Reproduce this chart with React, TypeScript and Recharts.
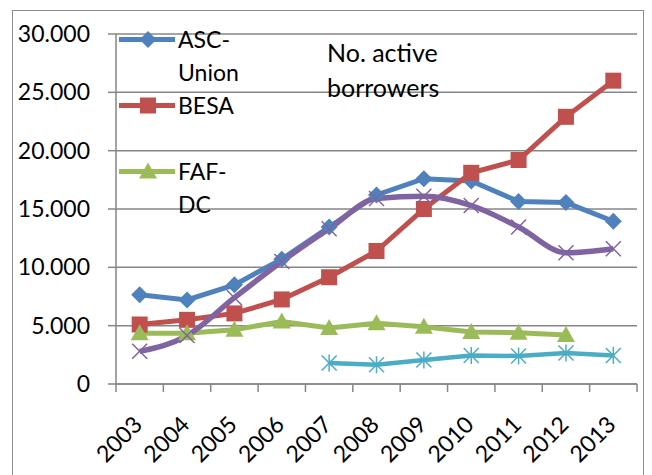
import React from 'react';
import { LineChart, Line, XAxis, YAxis, CartesianGrid, Legend } from 'recharts';

const years = ['2003', '2004', '2005', '2006', '2007', '2008', '2009', '2010', '2011', '2012', '2013'];
const ascUnion = [7650, 7200, 8500, 10700, 13450, 16200, 17600, 17400, 15650, 15550, 13950];
const besa = [5100, 5500, 6050, 7250, 9150, 11400, 15000, 18100, 19200, 22900, 26000];
const fafDc = [4350, 4350, 4650, 5350, 4800, 5200, 4900, 4450, 4400, 4200, null];
const series4 = [2800, 4150, 7400, 10500, 13300, 15900, 16100, 15300, 13450, 11250, 11600];
const series5 = [null, null, null, null, 1800, 1650, 2050, 2450, 2400, 2650, 2450];
const yTicks = [0, 5000, 10000, 15000, 20000, 25000, 30000];

const data = years.map((year, i) => ({
  year,
  asc: ascUnion[i],
  besa: besa[i],
  faf: fafDc[i],
  s4: series4[i],
  s5: series5[i],
}));

const W = 652;
const H = 475;
const LEFT = 116;
const RIGHT = 15;
const TOP = 34;
const X_H = 91;
const half = (W - LEFT - RIGHT) / years.length / 2;
const GRID = '#868686';
const FONT = 'Lato, "Open Sans", sans-serif';

const colors = {
  asc: '#4F81BD',
  besa: '#C0504D',
  faf: '#9BBB59',
  s4: '#8064A2',
  s5: '#4BACC6',
};

type Kind = 'diamond' | 'square' | 'triangle' | 'x' | 'star';

function marker(kind: Kind, color: string, cx: number, cy: number, key?: string) {
  if (kind === 'diamond') {
    return <polygon key={key} points={`${cx},${cy - 8.5} ${cx + 8.5},${cy} ${cx},${cy + 8.5} ${cx - 8.5},${cy}`} fill={color} />;
  }
  if (kind === 'square') {
    return <rect key={key} x={cx - 8} y={cy - 8} width={16} height={16} fill={color} />;
  }
  if (kind === 'triangle') {
    return <polygon key={key} points={`${cx},${cy - 9} ${cx + 9},${cy + 7} ${cx - 9},${cy + 7}`} fill={color} />;
  }
  const d = 7.5;
  return (
    <g key={key} stroke={color} strokeWidth={1.5}>
      <line x1={cx - d} y1={cy - d} x2={cx + d} y2={cy + d} />
      <line x1={cx - d} y1={cy + d} x2={cx + d} y2={cy - d} />
      {kind === 'star' && <line x1={cx} y1={cy - d - 1} x2={cx} y2={cy + d + 1} />}
    </g>
  );
}

const dotOf = (kind: Kind, color: string) => (props: any) => {
  const { cx, cy, index } = props;
  if (cx == null || cy == null || Number.isNaN(cy)) return <g key={`${kind}-${index}`} />;
  return marker(kind, color, cx, cy, `${kind}-${index}`);
};

const legendKinds: Record<string, Kind> = {
  'ASC-Union': 'diamond',
  BESA: 'square',
  'FAF-DC': 'triangle',
};

function LegendBox(props: any) {
  const items = (props.payload || []).filter((p: any) => legendKinds[p.value]);
  return (
    <div style={{ fontFamily: FONT, fontSize: 23, lineHeight: '33px', color: '#000' }}>
      {items.map((p: any) => (
        <div key={p.value} style={{ display: 'flex', height: 66, alignItems: 'flex-start' }}>
          <svg width={56} height={33} style={{ flex: 'none' }}>
            <line x1={0} x2={56} y1={16.5} y2={16.5} stroke={p.color} strokeWidth={5} />
            {marker(legendKinds[p.value], p.color, 29, 16.5)}
          </svg>
          <div style={{ marginLeft: 3, width: 75 }}>{p.value}</div>
        </div>
      ))}
    </div>
  );
}

function YearTick(props: any) {
  const { x, y, payload, index } = props;
  const tx = x + 4;
  const ty = y + 42;
  return (
    <g>
      <line x1={x - half} x2={x - half} y1={y} y2={y + 8} stroke={GRID} strokeWidth={1.5} />
      {index === years.length - 1 && (
        <line x1={x + half} x2={x + half} y1={y} y2={y + 8} stroke={GRID} strokeWidth={1.5} />
      )}
      <text x={tx} y={ty} transform={`rotate(-45 ${tx} ${ty})`} textAnchor="end" fontSize={23} fontFamily={FONT} fill="#000">
        {payload.value}
      </text>
    </g>
  );
}

export default function App() {
  return (
    <div style={{ position: 'fixed', left: 0, top: 0, width: W, height: H, overflow: 'hidden', background: '#fff' }}>
      <div
        style={{
          position: 'absolute',
          left: 12,
          top: 10,
          width: 630,
          height: 600,
          border: '1.5px solid #8c8c8c',
        }}
      />
      <LineChart
        width={W}
        height={H}
        data={data}
        margin={{ top: TOP, right: RIGHT, left: 0, bottom: 0 }}
        style={{ fontFamily: FONT }}
      >
        <CartesianGrid vertical={false} stroke={GRID} strokeWidth={1.5} />
        <XAxis
          dataKey="year"
          height={X_H}
          interval={0}
          padding={{ left: half, right: half }}
          axisLine={{ stroke: GRID, strokeWidth: 1.5 }}
          tickLine={false}
          tickSize={0}
          tickMargin={0}
          tick={<YearTick />}
        />
        <YAxis
          width={LEFT}
          domain={[0, 30000]}
          ticks={yTicks}
          interval={0}
          axisLine={{ stroke: GRID, strokeWidth: 1.5 }}
          tickLine={{ stroke: GRID, strokeWidth: 1.5 }}
          tickSize={8}
          tickMargin={18}
          tick={{ fill: '#000', fontSize: 23, fontFamily: FONT }}
          tickFormatter={(v: number) => v.toLocaleString('de-DE')}
        />
        <Legend
          layout="vertical"
          align="center"
          verticalAlign="middle"
          content={<LegendBox />}
          wrapperStyle={{ top: 22.6, left: 119, width: 170, height: 200 }}
        />
        <Line dataKey="asc" name="ASC-Union" stroke={colors.asc} strokeWidth={5} dot={dotOf('diamond', colors.asc)} isAnimationActive={false} />
        <Line dataKey="besa" name="BESA" stroke={colors.besa} strokeWidth={5} dot={dotOf('square', colors.besa)} isAnimationActive={false} />
        <Line dataKey="faf" name="FAF-DC" stroke={colors.faf} strokeWidth={5} dot={dotOf('triangle', colors.faf)} isAnimationActive={false} />
        <Line type="monotone" dataKey="s4" name="Series4" legendType="none" stroke={colors.s4} strokeWidth={5.5} dot={dotOf('x', colors.s4)} isAnimationActive={false} />
        <Line dataKey="s5" name="Series5" legendType="none" stroke={colors.s5} strokeWidth={4.5} dot={dotOf('star', colors.s5)} isAnimationActive={false} />
      </LineChart>
      <div
        style={{
          position: 'absolute',
          left: 327,
          top: 35,
          fontFamily: FONT,
          fontSize: 25,
          lineHeight: '35px',
          color: '#000',
        }}
      >
        <div>No. active</div>
        <div>borrowers</div>
      </div>
    </div>
  );
}
